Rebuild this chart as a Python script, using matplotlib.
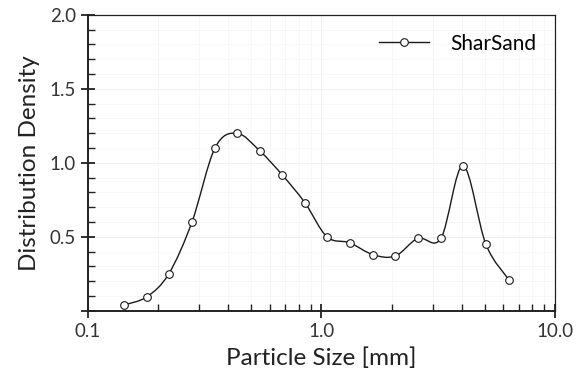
import numpy as np
import matplotlib
matplotlib.use("Agg")
import matplotlib.pyplot as plt
from matplotlib.path import Path
from matplotlib.patches import PathPatch
from matplotlib.ticker import MultipleLocator, LogLocator, FixedLocator, FixedFormatter
from matplotlib.lines import Line2D

plt.rcParams['font.family'] = ['Lato', 'DejaVu Sans']

# particle size [mm] and distribution density
size_mm = [0.143, 0.179, 0.222, 0.279, 0.35, 0.435, 0.545, 0.678, 0.85,
           1.056, 1.32, 1.66, 2.07, 2.59, 3.25, 4.04, 5.06, 6.35]
density = [0.04, 0.095, 0.25, 0.60, 1.10, 1.20, 1.08, 0.92, 0.73,
           0.50, 0.46, 0.38, 0.37, 0.49, 0.49, 0.98, 0.45, 0.21]
series_name = 'SharSand'
y_ticks = [0.5, 1.0, 1.5, 2.0]
x_ticks = [0.1, 1.0, 10.0]
x_tick_labels = ['0.1', '1.0', '10.0']


def smooth_path(xs, ys):
    # Catmull-Rom style bezier in log-x space, like a spreadsheet "smoothed line"
    u = np.log10(xs)
    v = np.asarray(ys, dtype=float)
    n = len(u)
    verts = [(xs[0], v[0])]
    codes = [Path.MOVETO]
    for i in range(n - 1):
        i0 = max(i - 1, 0)
        i3 = min(i + 2, n - 1)
        c1u = u[i] + (u[i + 1] - u[i0]) / 6
        c1v = v[i] + (v[i + 1] - v[i0]) / 6
        c2u = u[i + 1] - (u[i3] - u[i]) / 6
        c2v = v[i + 1] - (v[i3] - v[i]) / 6
        verts += [(10 ** c1u, c1v), (10 ** c2u, c2v), (xs[i + 1], v[i + 1])]
        codes += [Path.CURVE4] * 3
    return Path(verts, codes)


fig = plt.figure(figsize=(5.86, 3.8), dpi=100)
ax = fig.add_axes([0.150, 0.182, 0.797, 0.779])

ax.set_xscale('log')
ax.set_xlim(0.1, 10.0)
ax.set_ylim(0, 2.0)

ax.add_patch(PathPatch(smooth_path(size_mm, density), fill=False,
                       edgecolor='#1a1a1a', lw=1.0, zorder=3))
ax.plot(size_mm, density, linestyle='none', marker='o', markersize=5.5,
        markerfacecolor='white', markeredgecolor='#1a1a1a',
        markeredgewidth=0.8, zorder=4)

ax.xaxis.set_major_locator(FixedLocator(x_ticks))
ax.xaxis.set_major_formatter(FixedFormatter(x_tick_labels))
ax.xaxis.set_minor_locator(LogLocator(base=10, subs=np.arange(2, 10)))
ax.xaxis.set_minor_formatter(plt.NullFormatter())
ax.yaxis.set_major_locator(FixedLocator([0.0] + y_ticks))
ax.yaxis.set_major_formatter(FixedFormatter([''] + ['%.1f' % t for t in y_ticks]))
ax.yaxis.set_minor_locator(MultipleLocator(0.1))

ax.grid(True, which='major', color='#ededed', lw=0.6)
ax.grid(True, which='minor', color='#f4f4f4', lw=0.5)
ax.set_axisbelow(True)

for name, s in ax.spines.items():
    s.set_color('#222222')
    s.set_linewidth(1.4 if name in ('left', 'bottom') else 0.9)

ax.tick_params(which='major', direction='inout', length=10, width=1.3,
               labelsize=13.5, colors='#222222', labelcolor='#333333')
ax.tick_params(which='minor', direction='in', length=5, width=1.0, colors='#222222')
ax.tick_params(axis='x', which='major', pad=4)

ax.set_xlabel('Particle Size [mm]', fontsize=17.5, color='#222222', labelpad=5)
ax.set_ylabel('Distribution Density', fontsize=17.5, color='#222222', labelpad=7)

handle = Line2D([], [], color='#1a1a1a', lw=1.0, marker='o', markersize=5.5,
                markerfacecolor='white', markeredgecolor='#1a1a1a', markeredgewidth=0.8)
ax.legend([handle], [series_name], loc='upper right', frameon=False, fontsize=15,
          handlelength=2.4, handletextpad=1.0, borderaxespad=0.5)

fig.savefig('out.png', dpi=100)
